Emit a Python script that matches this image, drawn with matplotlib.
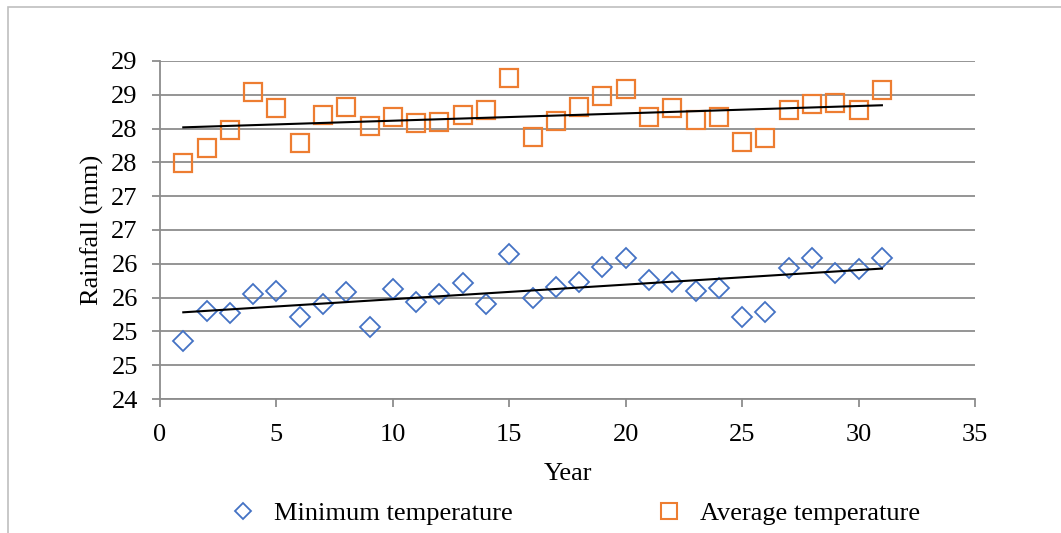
import numpy as np
import matplotlib
matplotlib.use("Agg")
import matplotlib.pyplot as plt
from matplotlib.patches import Rectangle
from matplotlib.lines import Line2D

years = list(range(1, 32))
min_temp = [24.86, 25.30, 25.27, 25.55, 25.60, 25.21, 25.41, 25.58, 25.07, 25.63,
            25.43, 25.55, 25.72, 25.41, 26.14, 25.49, 25.66, 25.73, 25.95, 26.09,
            25.76, 25.73, 25.60, 25.64, 25.21, 25.29, 25.94, 26.09, 25.86, 25.92, 26.09]
avg_temp = [27.49, 27.71, 27.98, 28.54, 28.30, 27.79, 28.20, 28.32, 28.04, 28.17,
            28.08, 28.10, 28.20, 28.28, 28.75, 27.88, 28.11, 28.32, 28.48, 28.59,
            28.17, 28.30, 28.13, 28.17, 27.80, 27.86, 28.28, 28.36, 28.38, 28.28, 28.57]
y_ticks = [24, 24.5, 25, 25.5, 26, 26.5, 27, 27.5, 28, 28.5, 29]
y_labels = ["24", "25", "25", "26", "26", "27", "27", "28", "28", "29", "29"]
x_ticks = [0, 5, 10, 15, 20, 25, 30, 35]

plt.rcParams["font.family"] = ["Liberation Serif", "DejaVu Serif"]

BLUE = "#4472C4"
ORANGE = "#ED7D31"
GRID = "#8c8c8c"
FS = 19

fig = plt.figure(figsize=(10.61, 5.33), dpi=100)
ax = fig.add_axes([0.1508, 0.2514, 0.9190 - 0.1508, 0.8856 - 0.2514])

# outer chart border
fig.patches.append(Rectangle((8 / 1061, -0.1), 1.1, 1 - 7 / 533 + 0.1, transform=fig.transFigure,
                             fill=False, edgecolor="#bfbfbf", lw=1.2))

ax.plot(years, min_temp, ls="none", marker="D", ms=10, mfc="none", mec=BLUE, mew=1.3, zorder=3)
ax.plot(years, avg_temp, ls="none", marker="s", ms=13.5, mfc="none", mec=ORANGE, mew=1.6, zorder=3)

# linear trend lines
x = np.array(years)
for ys in (min_temp, avg_temp):
    b1, b0 = np.polyfit(x, ys, 1)
    ax.plot([x[0], x[-1]], [b0 + b1 * x[0], b0 + b1 * x[-1]], color="black", lw=1.5, zorder=4)

ax.set_xlim(0, 35)
ax.set_ylim(24, 29)
ax.set_xticks(x_ticks)
ax.set_yticks(y_ticks)
ax.set_yticklabels(y_labels)
ax.grid(axis="y", color=GRID, lw=1.3)
ax.set_axisbelow(True)
for s in ("top", "right"):
    ax.spines[s].set_visible(False)
for s in ("left", "bottom"):
    ax.spines[s].set_color(GRID)
    ax.spines[s].set_linewidth(1.3)
ax.tick_params(axis="both", direction="out", length=6, width=1.3, color=GRID, labelsize=FS)
ax.tick_params(axis="x", pad=12)
ax.tick_params(axis="y", pad=10)
ax.set_xlabel("Year", fontsize=FS, labelpad=12)
ax.set_ylabel("Rainfall (mm)", fontsize=FS, labelpad=5)

handles = [Line2D([], [], ls="none", marker="D", ms=8, mfc="none", mec=BLUE, mew=1.3),
           Line2D([], [], ls="none", marker="s", ms=12, mfc="none", mec=ORANGE, mew=1.5)]
fig.legend(handles, ["Minimum temperature", "Average temperature"], loc="center",
           bbox_to_anchor=(575 / 1061, 1 - 513 / 533), ncol=2, frameon=False, fontsize=FS,
           handlelength=1, handletextpad=0.67, columnspacing=5.4, borderpad=0, borderaxespad=0)

fig.savefig("out.png", dpi=100)
